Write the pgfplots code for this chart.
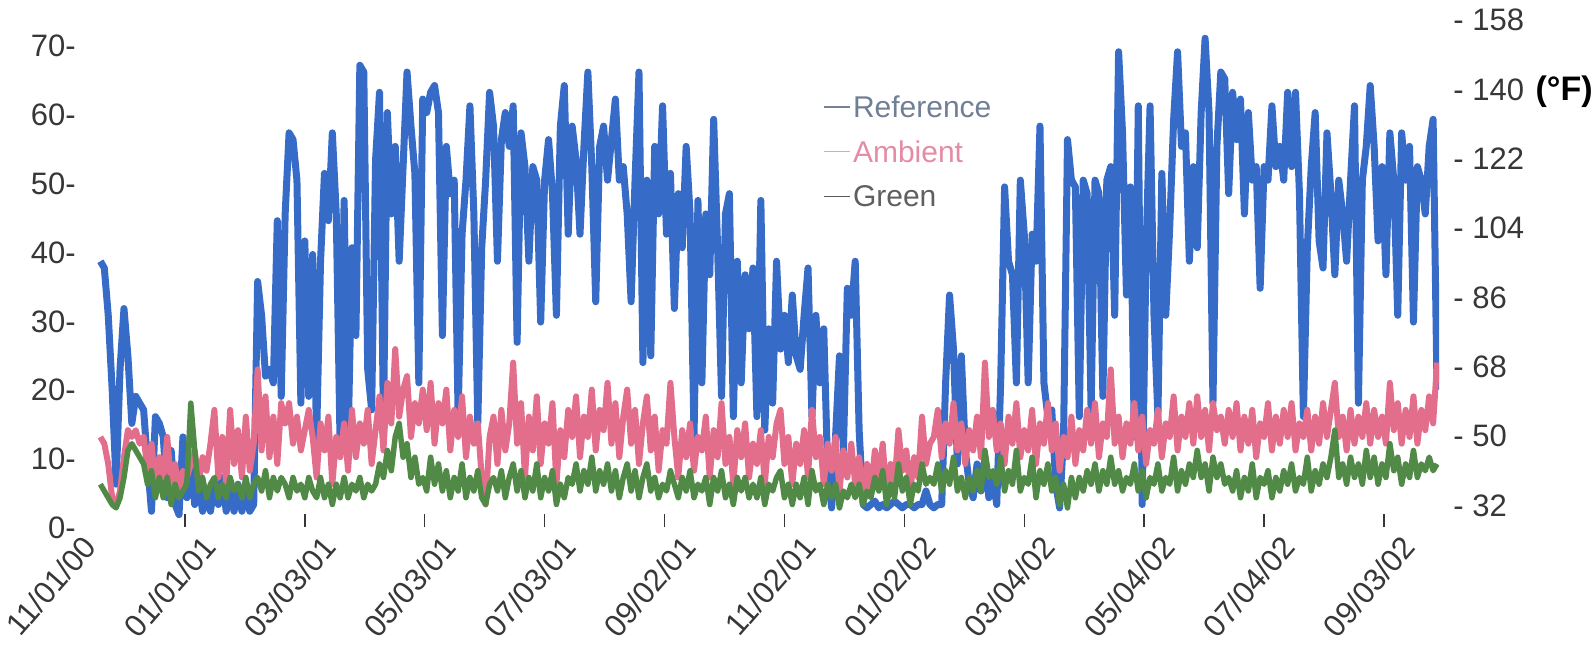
\documentclass[border=0pt]{standalone}
\usepackage{fontspec}
\setmainfont{Liberation Sans}
\usepackage{pgfplots}
\usepackage{pgfplotstable}
\pgfplotsset{compat=1.18}

\definecolor{refblue}{RGB}{54,108,200}
\definecolor{ambpink}{RGB}{226,110,140}
\definecolor{grngreen}{RGB}{80,138,70}
\definecolor{txt}{RGB}{55,55,55}
\definecolor{legrefline}{RGB}{120,130,150}
\definecolor{legambline}{RGB}{228,165,182}
\definecolor{leggrnline}{RGB}{90,90,90}
\definecolor{legreftxt}{RGB}{112,126,150}
\definecolor{legambtxt}{RGB}{228,140,165}
\definecolor{leggrntxt}{RGB}{95,95,95}

% day = days since 11/01/00, temperatures in deg C
\pgfplotstableread{
d ref amb grn
18 38 12 5
20 37 11 4
22 30 8 3
24 19 3 2
26 5 2 1.5
28 22 4 3
30 31 9 6
32 24 13 10
34 14 12 11
36 18 13 10
38 17 11 9
40 16 12 8
42 8 7 5
44 1 11 7
46 15 5 3
48 14 9 6
50 12 6 3
52 3 12 6
54 10 5 2
56 2 8 5
58 0.5 4 3
60 12 7 4
62 3 6 5
64 9 8 17
66 2 10 10
68 5 5 4
70 1 9 6
72 4 7 3
74 1 11 5
76 5 16 6
78 2 6 3
80 6 12 5
82 1 5 3
84 4 16 6
86 1 8 4
88 5 13 5
90 1 6 3
92 4 15 6
94 1 7 3
96 2 11 5
98 35 22 6
100 30 10 4
102 21 18 7
104 22 9 3
106 20 15 6
108 44 8 4
110 18 17 6
112 45 14 5
114 57 17 3
116 56 11 6
118 50 15 4
120 17 10 5
122 41 13 3
124 18 16 6
126 39 12 4
128 12 6 3
130 38 14 6
132 51 10 3
134 44 15 5
136 57 5 2
138 45 12 5
140 10 9 3
142 47 14 6
144 11 7 3
146 40 16 5
148 27 9 4
150 67 14 6
152 66 11 3
154 22 16 5
156 16 8 4
158 53 13 5
160 63 18 8
162 14 10 6
164 60 20 10
166 45 14 7
168 55 25 12
170 38 15 14
172 52 19 9
174 66 21 11
176 58 12 6
178 51 17 9
180 20 14 5
182 62 19 6
184 60 13 4
186 63 20 9
188 64 11 5
190 60 17 8
192 27 14 4
194 55 19 7
196 48 10 3
198 50 16 6
200 15 12 4
202 42 18 8
204 50 9 3
206 61 15 6
208 45 11 4
210 14 14 7
212 40 6 3
214 50 2 2
216 63 12 5
218 58 15 6
220 38 8 4
222 56 16 7
224 60 10 3
226 55 14 6
228 61 23 8
230 26 11 4
232 57 17 7
234 52 6 3
236 38 15 6
238 52 10 4
240 50 18 8
242 29 8 3
244 50 14 6
246 56 11 4
248 48 17 7
250 30 5 2
252 58 13 5
254 64 9 3
256 42 16 6
258 58 12 5
260 53 18 8
262 42 9 4
264 55 15 7
266 66 12 5
268 52 19 9
270 32 10 4
272 55 16 7
274 58 13 5
276 50 20 8
278 56 11 4
280 62 17 7
282 50 9 3
284 52 15 6
286 45 19 8
288 32 11 4
290 50 16 7
292 66 8 3
294 23 14 6
296 50 18 8
298 24 10 4
300 55 15 6
302 45 7 3
304 61 13 5
306 42 11 4
308 51 20 7
310 31 12 5
312 48 6 3
314 40 13 6
316 55 9 4
318 45 14 7
320 12 7 3
322 47 12 5
324 20 10 4
326 45 15 6
328 36 6 2
330 59 13 6
332 40 9 4
334 18 17 7
336 45 8 3
338 48 12 5
340 15 5 2
342 38 13 6
344 20 9 4
346 36 14 6
348 28 6 3
350 37 11 5
352 15 8 3
354 47 13 6
356 13 5 2
358 28 12 5
360 17 9 4
362 38 14 6
364 25 16 7
366 30 8 3
368 23 12 5
370 33 5 2
372 24 11 5
374 22 8 3
376 30 13 6
378 37 6 2
380 15 16 7
382 30 9 4
384 20 12 5
386 28 5 2
388 7 11 5
390 1.5 7 3
392 12 12 5
394 24 4 1.5
396 10 10 4
398 34 6 3
400 30 11 5
402 38 5 3
404 13 9 5
406 2 3 2
408 1.5 8 4
410 2 4 3
412 2.5 10 6
414 1.5 6 4
416 2 11 7
418 1.5 3 2
420 2 8 5
422 2.5 5 3
424 2 13 8
426 1.5 7 4
428 2 10 6
430 2 4 2
432 1.5 9 5
434 2 6 4
436 2 15 8
438 4 8 5
440 2 11 6
442 1.5 12 5
444 2 16 8
446 2 9 4
448 20 14 7
450 33 11 5
452 25 17 9
454 8 10 4
456 24 14 6
458 10 8 3
460 5 13 6
462 3 10 4
464 8 15 7
466 4 9 4
468 9 23 10
470 3 12 6
472 6 16 7
474 2 10 5
476 20 14 9
478 49 8 4
480 38 15 7
482 36 11 5
484 20 17 10
486 50 9 4
488 42 13 6
490 20 10 5
492 42 16 9
494 38 8 3
496 58 14 7
498 20 11 5
500 15 17 8
502 16 10 4
504 5 14 6
506 1.5 7 2
508 12 12 5
510 56 9 1.5
512 50 15 6
514 49 8 3
516 15 13 6
518 50 10 4
520 48 16 7
522 16 11 5
524 50 17 8
526 48 9 4
528 18 14 7
530 50 12 5
532 52 22 9
534 30 11 5
536 69 15 7
538 57 9 4
540 33 14 6
542 49 11 5
544 12 17 8
546 61 10 4
548 2 15 7
550 40 8 3
552 61 13 6
554 30 11 5
556 15 16 8
558 51 9 4
560 30 14 6
562 43 12 5
564 59 18 9
566 69 10 4
568 55 15 7
570 57 12 5
572 38 17 8
574 52 11 6
576 40 18 10
578 60 12 6
580 71 16 8
582 60 10 4
584 17 17 9
586 55 13 6
588 66 15 8
590 65 11 5
592 48 16 6
594 63 12 4
596 56 17 7
598 62 10 3
600 45 15 6
602 60 11 4
604 50 16 8
606 52 9 3
608 34 14 6
610 52 12 5
612 50 17 7
614 61 10 3
616 52 15 6
618 55 11 4
620 50 16 7
622 63 12 5
624 52 17 8
626 63 10 4
628 48 14 6
630 15 12 5
632 40 16 9
634 52 10 4
636 60 15 7
638 41 11 5
640 37 17 8
642 57 12 6
644 48 16 9
646 36 20 13
648 50 12 6
650 45 15 8
652 38 10 5
654 50 16 9
656 61 11 6
658 17 15 8
660 50 12 5
662 55 17 10
664 64 11 6
666 55 16 9
668 41 12 5
670 52 15 8
672 36 11 6
674 57 20 11
676 50 13 7
678 30 17 9
680 57 11 5
682 50 16 8
684 55 12 6
686 29 18 10
688 52 11 6
690 50 16 8
692 45 13 7
694 55 18 9
696 59 14 7
698 19 23 8
}\temps

\begin{document}
\begin{tikzpicture}
\path[use as bounding box] (-32.5pt,-60.5pt) rectangle (765pt,263.5pt);
% data axis
\begin{axis}[
    at={(0,0)}, anchor=south west,
    scale only axis, width=687pt, height=256pt,
    xmin=0, xmax=699, ymin=-1.33, ymax=74.44,
    axis line style={draw=none},
    xtick={61,122,183,244,305,366,427,488,549,610,671},
    xticklabels={01/01/01,03/03/01,05/03/01,07/03/01,09/02/01,11/02/01,01/02/02,03/04/02,05/04/02,07/04/02,09/03/02},
    extra x ticks={0},
    extra x tick labels={11/01/00},
    extra x tick style={major tick length=0pt},
    xtick pos=left, tick align=inside,
    major tick length=6.5pt,
    xtick style={draw=txt, line width=0.75pt},
    x tick label style={rotate=49, anchor=north east, inner sep=0pt,
        font=\fontsize{15.5}{17}\selectfont, text=txt, xshift=3pt, yshift=-8pt},
    ytick=\empty,
    legend style={at={(0.5517,0.844)}, anchor=north west, draw=none, fill=none,
        inner sep=0pt, row sep=8.4pt, font=\fontsize{15}{17}\selectfont,
        nodes={inner sep=0pt, text height=11pt, text depth=3pt},
        /tikz/every odd column/.append style={column sep=1pt}},
    legend cell align=left,
]
\addplot[refblue, line width=3.5pt, line join=round, forget plot] table[x=d, y=ref] {\temps};
\addplot[ambpink, line width=3pt, line join=round, forget plot] table[x=d, y=amb] {\temps};
\addplot[grngreen, line width=2.75pt, line join=round, forget plot] table[x=d, y=grn] {\temps};

\addlegendimage{legend image code/.code={\draw[legrefline, line width=0.8pt] (0pt,1.2pt) -- (13pt,1.2pt);}}
\addlegendentry{\textcolor{legreftxt}{Reference}}
\addlegendimage{legend image code/.code={\draw[legambline, line width=0.8pt] (0pt,1.2pt) -- (13pt,1.2pt);}}
\addlegendentry{\textcolor{legambtxt}{Ambient}}
\addlegendimage{legend image code/.code={\draw[leggrnline, line width=0.8pt] (0pt,1.2pt) -- (13pt,1.2pt);}}
\addlegendentry{\textcolor{leggrntxt}{Green}}
\end{axis}

% left scale (deg C)
\begin{axis}[
    at={(0,-6.5pt)}, anchor=south west,
    scale only axis, width=687pt, height=262.5pt,
    xmin=0, xmax=699, ymin=-1.743, ymax=74.50,
    hide x axis, axis line style={draw=none},
    ytick={0,10,...,70}, ytick pos=left, ytick style={draw=none},
    yticklabel={\pgfmathprintnumber{\tick}-},
    y tick label style={anchor=east, inner sep=0pt, xshift=5.5pt,
        font=\fontsize{15.5}{18}\selectfont, text=txt},
    /pgf/number format/assume math mode=true,
]
\end{axis}

% right scale (deg F)
\begin{axis}[
    at={(0,-6.5pt)}, anchor=south west,
    scale only axis, width=687pt, height=262.5pt,
    xmin=0, xmax=699, ymin=23.04, ymax=159.34,
    hide x axis, axis y line*=right, axis line style={draw=none},
    ytick={32,50,...,158}, ytick style={draw=none},
    yticklabel={- \pgfmathprintnumber{\tick}},
    y tick label style={anchor=west, inner sep=0pt, xshift=7pt,
        font=\fontsize{15.5}{18}\selectfont, text=txt},
    /pgf/number format/assume math mode=true,
]
\end{axis}
\node[anchor=east, inner sep=0pt, font=\fontsize{17}{19}\selectfont\bfseries, text=black] at (764pt,217.5pt) {(°F)};
\end{tikzpicture}
\end{document}
